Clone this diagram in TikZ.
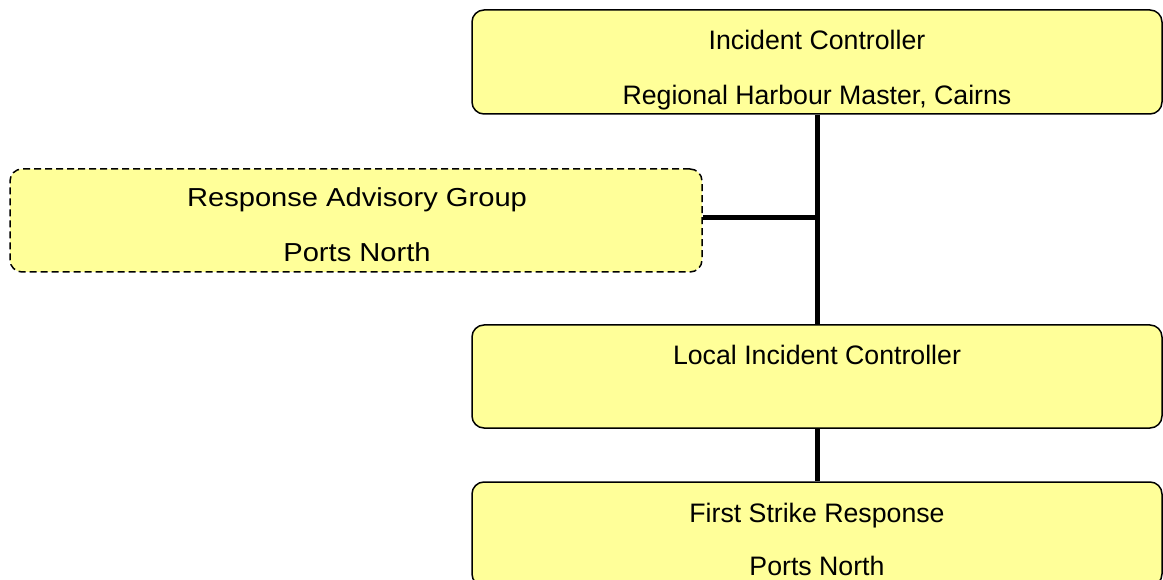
\documentclass[tikz,border=0pt]{standalone}
\usepackage{fontspec}
\setmainfont{Liberation Sans}
\newfontfamily\widefont[FakeStretch=1.12]{Liberation Sans}
\definecolor{boxyellow}{RGB}{255,255,153}
\begin{document}
\begin{tikzpicture}[x=1pt, y=-1pt,
        box/.style={draw=black, line width=1.5pt, rounded corners=12pt, fill=boxyellow,
            minimum width=690pt, minimum height=104pt, inner sep=0pt},
        lbl/.style={anchor=base, inner sep=0pt, font=\fontsize{26.7}{32}\selectfont},
        widelbl/.style={anchor=base, inner sep=0pt, font=\widefont\fontsize{26}{31}\selectfont},
        conn/.style={line width=5pt}]
        \useasboundingbox (0,0) rectangle (1163,580);
        \clip (0,0) rectangle (1163,580);

        % boxes
        \node[box] (ic) at (817,62) {};
        \node[box, dash pattern=on 7pt off 4pt, minimum width=692pt, minimum height=103pt] (rag) at (356,220.5) {};
        \node[box, minimum height=103pt] (lic) at (817,376.5) {};
        \node[box] (fsr) at (817,534) {};

        % texts
        \node[lbl] (ic-a) at (817,50) {Incident Controller};
        \node[lbl] (ic-b) at (817,105) {Regional Harbour Master, Cairns};
        \node[widelbl] (rag-a) at (357,207) {Response Advisory Group};
        \node[widelbl] (rag-b) at (357,262) {Ports North};
        \node[lbl] (lic-a) at (817,364) {Local Incident Controller};
        \node[lbl] (fsr-a) at (817,522) {First Strike Response};
        \node[lbl] (fsr-b) at (817,575) {Ports North};

        % connectors
        \coordinate (jn) at (817,218);
        \draw[conn] (ic.south) -- (lic.north);
        \draw[conn] (rag.east |- jn) -- (jn);
        \draw[conn] (lic.south) -- (fsr.north);
    \end{tikzpicture}
\end{document}
